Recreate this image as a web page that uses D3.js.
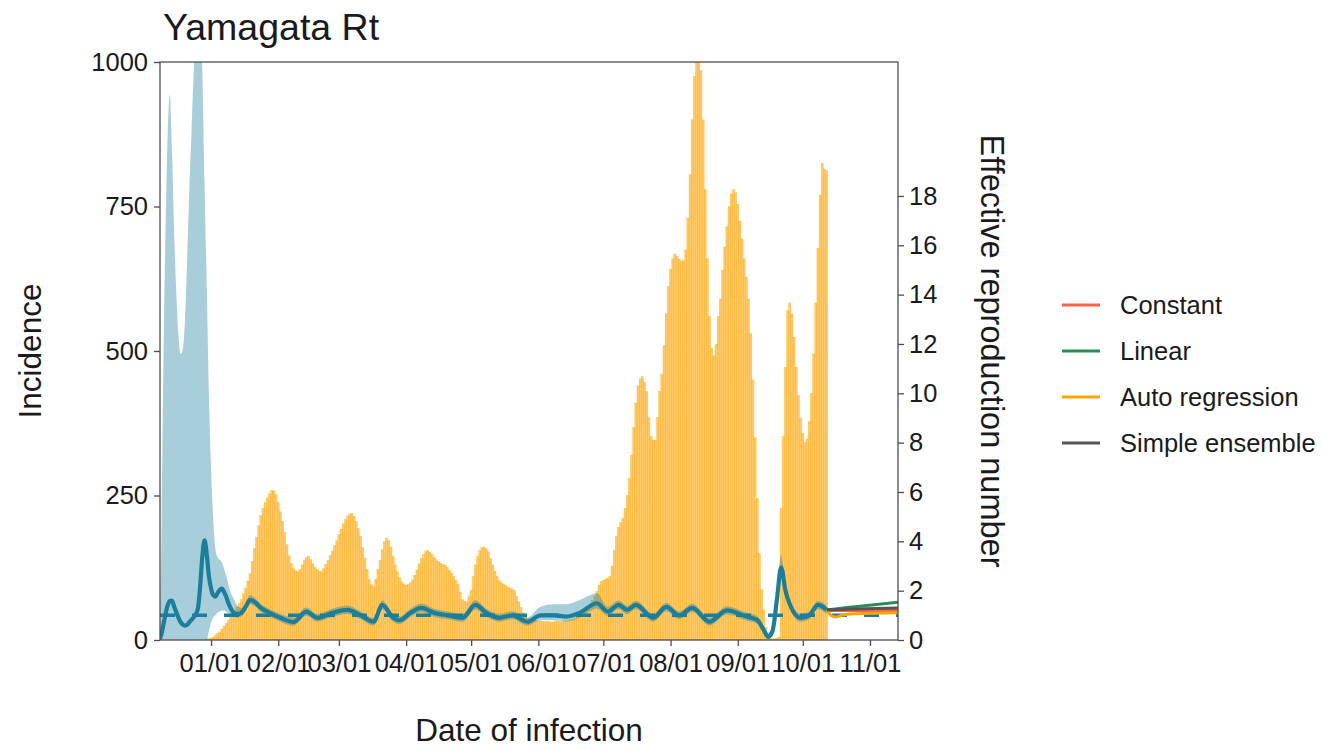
<!DOCTYPE html>
<html><head><meta charset="utf-8">
<script src="https://cdn.jsdelivr.net/npm/d3@7"></script>
<style>
body{margin:0;background:#fff;}
text{font-family:"Liberation Sans",Arial,Helvetica,sans-serif;fill:#1a1a1a;}
</style>
</head><body>
<svg id="chart" width="1322" height="750"></svg>
<script>
// ---------------- data ----------------
const chartTitle = "Yamagata Rt";
const xTitle = "Date of infection";
const yLeftTitle = "Incidence";
const yRightTitle = "Effective reproduction number";

const incidenceStart = "2020-12-30";
const incidence = [
  1,2,3,5,8,11,14,19,24,29,
  34,40,46,51,57,63,70,80,90,102,
  115,136,158,178,198,215,228,238,246,253,
  259,258,252,238,222,205,186,165,146,132,
  124,120,118,122,130,138,143,145,139,132,
  126,122,119,118,124,131,138,146,154,163,
  172,182,192,201,208,214,218,219,214,205,
  193,180,160,142,122,105,96,92,105,122,
  138,156,170,176,172,161,145,130,118,108,
  100,97,95,96,99,104,112,121,132,141,
  148,153,155,152,148,143,139,136,133,131,
  130,126,121,116,110,103,96,83,70,67,
  66,75,86,110,130,145,155,160,161,158,
  153,141,130,119,110,103,99,96,94,92,
  90,88,86,76,66,56,47,42,37,35,
  35,34,34,33,33,32,32,32,32,31,
  31,32,32,32,32,33,33,34,35,36,
  37,39,41,44,48,52,57,63,69,76,
  84,95,101,103,105,107,110,128,155,180,
  195,203,211,228,250,280,320,368,410,440,
  452,456,446,430,385,352,346,345,385,430,
  460,510,565,612,642,660,668,664,659,655,
  656,675,730,805,900,975,1000,1000,985,900,
  780,660,560,505,492,512,560,590,640,680,
  715,750,772,780,774,754,725,694,660,628,
  590,530,450,350,245,150,88,52,22,6,
  3,2,2,3,5,228,352,472,570,583,
  564,524,472,423,384,358,342,348,378,427,
  495,583,678,770,825,815,812
];

const rtDates = [
  "2020-12-08","2020-12-09","2020-12-10","2020-12-11","2020-12-12","2020-12-13","2020-12-14","2020-12-15",
  "2020-12-16","2020-12-17","2020-12-18","2020-12-19","2020-12-20","2020-12-21","2020-12-22","2020-12-23",
  "2020-12-24","2020-12-25","2020-12-26","2020-12-27","2020-12-28","2020-12-29","2020-12-30","2020-12-31",
  "2021-01-01","2021-01-02","2021-01-03","2021-01-04","2021-01-05","2021-01-06","2021-01-07","2021-01-08",
  "2021-01-09","2021-01-10","2021-01-11","2021-01-13","2021-01-15","2021-01-17","2021-01-19","2021-01-21",
  "2021-01-24","2021-01-28","2021-02-02","2021-02-08","2021-02-14","2021-02-19","2021-02-26","2021-03-05",
  "2021-03-11","2021-03-17","2021-03-21","2021-03-26","2021-03-29","2021-04-03","2021-04-08","2021-04-14",
  "2021-04-20","2021-04-27","2021-05-03","2021-05-08","2021-05-14","2021-05-20","2021-05-27","2021-06-02",
  "2021-06-08","2021-06-14","2021-06-20","2021-06-28","2021-07-03","2021-07-08","2021-07-12","2021-07-16",
  "2021-07-24","2021-07-30","2021-08-05","2021-08-11","2021-08-19","2021-08-27","2021-09-05","2021-09-10",
  "2021-09-13","2021-09-15","2021-09-17","2021-09-19","2021-09-21","2021-09-23","2021-09-25","2021-09-30",
  "2021-10-04","2021-10-08","2021-10-12"
];
const rtMedian = [
  0.0,0.2,0.6,1.05,1.4,1.58,1.6,1.35,
  1.12,0.9,0.72,0.62,0.58,0.62,0.72,0.82,
  0.92,1.05,1.3,2.2,3.4,4.04,3.5,2.6,
  2.1,1.82,1.76,1.9,2.03,2.08,1.95,1.75,
  1.5,1.3,1.15,1.05,1.1,1.35,1.63,1.55,
  1.3,1.1,0.9,0.73,1.15,0.9,1.1,1.22,
  1.0,0.74,1.42,0.9,0.8,1.1,1.3,1.1,
  1.0,0.9,1.42,1.1,0.9,1.0,0.74,1.0,
  1.0,0.95,1.1,1.49,1.15,1.42,1.22,1.42,
  0.9,1.34,1.0,1.3,0.74,1.2,0.95,0.81,
  0.4,0.13,0.35,1.6,2.95,2.0,1.45,0.9,
  1.0,1.42,1.22
];
const rtLower = [
  0,0,0,0,0,0,0,0,
  0,0,0,0,0,0,0,0,
  0,0,0,0,0,0,0,0.35,
  0.7,0.92,1.0,1.1,1.15,1.2,1.2,1.15,
  1.08,1.0,0.95,0.9,0.95,1.18,1.46,1.38,
  1.13,0.94,0.74,0.57,0.98,0.74,0.94,1.05,
  0.84,0.58,1.25,0.74,0.64,0.93,1.12,0.93,
  0.84,0.74,1.24,0.93,0.74,0.84,0.58,0.8,
  0.8,0.75,0.9,1.28,0.98,1.25,1.05,1.25,
  0.74,1.17,0.84,1.13,0.58,1.03,0.79,0.65,
  0.25,0.02,0.2,1.35,2.6,1.8,1.28,0.74,
  0.84,1.25,1.05
];
const rtUpper = [
  0.3,3.5,11,16.5,20.5,22.1,19.8,16.5,
  14,12.3,11.6,11.8,13,15.5,18.3,20.6,
  23,24.5,25,24.5,23,18.5,14.5,10,
  7,4.9,3.7,3.35,3.25,3.15,2.9,2.6,
  2.25,1.95,1.75,1.42,1.3,1.52,1.82,1.72,
  1.47,1.26,1.06,0.9,1.32,1.06,1.27,1.4,
  1.16,0.9,1.6,1.06,0.96,1.27,1.48,1.27,
  1.16,1.06,1.62,1.27,1.06,1.17,0.92,1.35,
  1.45,1.45,1.62,1.9,1.35,1.6,1.39,1.59,
  1.06,1.51,1.16,1.47,0.9,1.37,1.11,0.97,
  0.55,0.3,0.55,1.95,3.45,2.25,1.62,1.06,
  1.16,1.59,1.39
];

const forecastDates = ["2021-10-12","2021-10-14","2021-10-16","2021-10-19","2021-10-25","2021-11-14"];
const forecastConstant = [1.22,1.2,1.2,1.2,1.2,1.2];
const forecastLinear = [1.22,1.24,1.26,1.29,1.35,1.53];
const forecastAutoRegression = [1.22,1.0,0.93,1.0,1.06,1.1];
const forecastEnsemble = [1.22,1.225,1.23,1.24,1.255,1.3];

const legendLabels = ["Constant","Linear","Auto regression","Simple ensemble"];
const legendColors = ["#ff6347","#2e8b57","#ffa500","#555555"];

const incidenceTicks = [0,250,500,750,1000];
const rtTicks = [0,2,4,6,8,10,12,14,16,18];
const monthTicks = ["2021-01-01","2021-02-01","2021-03-01","2021-04-01","2021-05-01","2021-06-01",
                    "2021-07-01","2021-08-01","2021-09-01","2021-10-01","2021-11-01"];

// ---------------- layout ----------------
const P = {left:160, right:898, top:62, bottom:640};
const blue = "#1a7f9d";
const axisColor = "#4d4d4d";
const parse = d3.utcParse("%Y-%m-%d");

const svg = d3.select("#chart");

const x = d3.scaleUtc()
  .domain([new Date(Date.UTC(2020,11,8,11)), new Date(Date.UTC(2021,10,13,22))])
  .range([P.left, P.right]);
const yInc = d3.scaleLinear().domain([0,1000]).range([P.bottom, P.top]);
const yRt = d3.scaleLinear().domain([0,23.43]).range([P.bottom, P.top]);

svg.append("defs").append("clipPath").attr("id","panel")
  .append("rect").attr("x",P.left).attr("y",P.top)
  .attr("width",P.right-P.left).attr("height",P.bottom-P.top);

const g = svg.append("g").attr("clip-path","url(#panel)");

// bars
const start = parse(incidenceStart);
const bars = incidence.map((v,i)=>({date:d3.utcDay.offset(start,i), v}));
g.append("g").selectAll("rect").data(bars).join("rect")
  .attr("x", d => x(d3.utcHour.offset(d.date,-12)))
  .attr("width", d => x(d3.utcHour.offset(d.date,12)) - x(d3.utcHour.offset(d.date,-12)))
  .attr("y", d => yInc(d.v))
  .attr("height", d => yInc(0) - yInc(d.v))
  .attr("fill","#ffa500").attr("fill-opacity",0.6)
  .attr("stroke","#ffa500").attr("stroke-width",0.3).attr("stroke-opacity",0.8);

// Rt ribbon
const rt = rtDates.map((d,i)=>({date:parse(d), m:rtMedian[i], lo:rtLower[i], hi:rtUpper[i]}));
g.append("path").datum(rt)
  .attr("d", d3.area().x(d=>x(d.date)).y0(d=>yRt(d.lo)).y1(d=>yRt(d.hi)).curve(d3.curveMonotoneX))
  .attr("fill", blue).attr("fill-opacity",0.38);

// Rt = 1 dashed
g.append("line")
  .attr("x1",P.left).attr("x2",P.right)
  .attr("y1",yRt(1)).attr("y2",yRt(1))
  .attr("stroke",blue).attr("stroke-width",3.5).attr("stroke-dasharray","15,17");

// Rt line
g.append("path").datum(rt)
  .attr("d", d3.line().x(d=>x(d.date)).y(d=>yRt(d.m)).curve(d3.curveMonotoneX))
  .attr("fill","none").attr("stroke",blue).attr("stroke-width",4.2).attr("stroke-linejoin","round");

// forecasts
const fDates = forecastDates.map(parse);
const fSeries = [forecastConstant, forecastLinear, forecastAutoRegression, forecastEnsemble];
fSeries.forEach((s,k)=>{
  g.append("path").datum(s.map((v,i)=>({date:fDates[i], v})))
    .attr("d", d3.line().x(d=>x(d.date)).y(d=>yRt(d.v)).curve(d3.curveMonotoneX))
    .attr("fill","none").attr("stroke",legendColors[k]).attr("stroke-width",3);
});

// panel border
svg.append("rect").attr("x",P.left).attr("y",P.top)
  .attr("width",P.right-P.left).attr("height",P.bottom-P.top)
  .attr("fill","none").attr("stroke",axisColor).attr("stroke-width",1.3);

function styleAxis(sel){
  sel.select(".domain").remove();
  sel.selectAll(".tick line").attr("stroke",axisColor).attr("stroke-width",1.3);
  sel.selectAll(".tick text").attr("font-size",25.5).attr("fill","#1a1a1a")
     .attr("font-family",'"Liberation Sans",Arial,sans-serif');
}

svg.append("g").attr("transform",`translate(0,${P.bottom})`)
  .call(d3.axisBottom(x).tickValues(monthTicks.map(parse)).tickFormat(d3.utcFormat("%m/%d")).tickSize(6).tickPadding(8))
  .call(styleAxis);
svg.append("g").attr("transform",`translate(${P.left},0)`)
  .call(d3.axisLeft(yInc).tickValues(incidenceTicks).tickFormat(d3.format("d")).tickSize(6).tickPadding(6))
  .call(styleAxis);
svg.append("g").attr("transform",`translate(${P.right},0)`)
  .call(d3.axisRight(yRt).tickValues(rtTicks).tickFormat(d3.format("d")).tickSize(6).tickPadding(5))
  .call(styleAxis);

// titles
svg.append("text").attr("x",163).attr("y",40).attr("font-size",37.5).text(chartTitle);
svg.append("text").attr("x",(P.left+P.right)/2).attr("y",741).attr("text-anchor","middle")
  .attr("font-size",31.5).text(xTitle);
svg.append("text").attr("transform",`translate(41,${(P.top+P.bottom)/2}) rotate(-90)`)
  .attr("text-anchor","middle").attr("font-size",31.5).text(yLeftTitle);
svg.append("text").attr("transform",`translate(981,${(P.top+P.bottom)/2}) rotate(90)`)
  .attr("text-anchor","middle").attr("font-size",32.5).text(yRightTitle);

// legend
const lg = svg.append("g");
legendLabels.forEach((lab,i)=>{
  const cy = 305 + i*46;
  lg.append("line").attr("x1",1062).attr("x2",1100).attr("y1",cy).attr("y2",cy)
    .attr("stroke",legendColors[i]).attr("stroke-width",3);
  lg.append("text").attr("x",1120).attr("y",cy).attr("dy","0.35em")
    .attr("font-size",25.5).text(lab);
});
</script>
</body></html>
